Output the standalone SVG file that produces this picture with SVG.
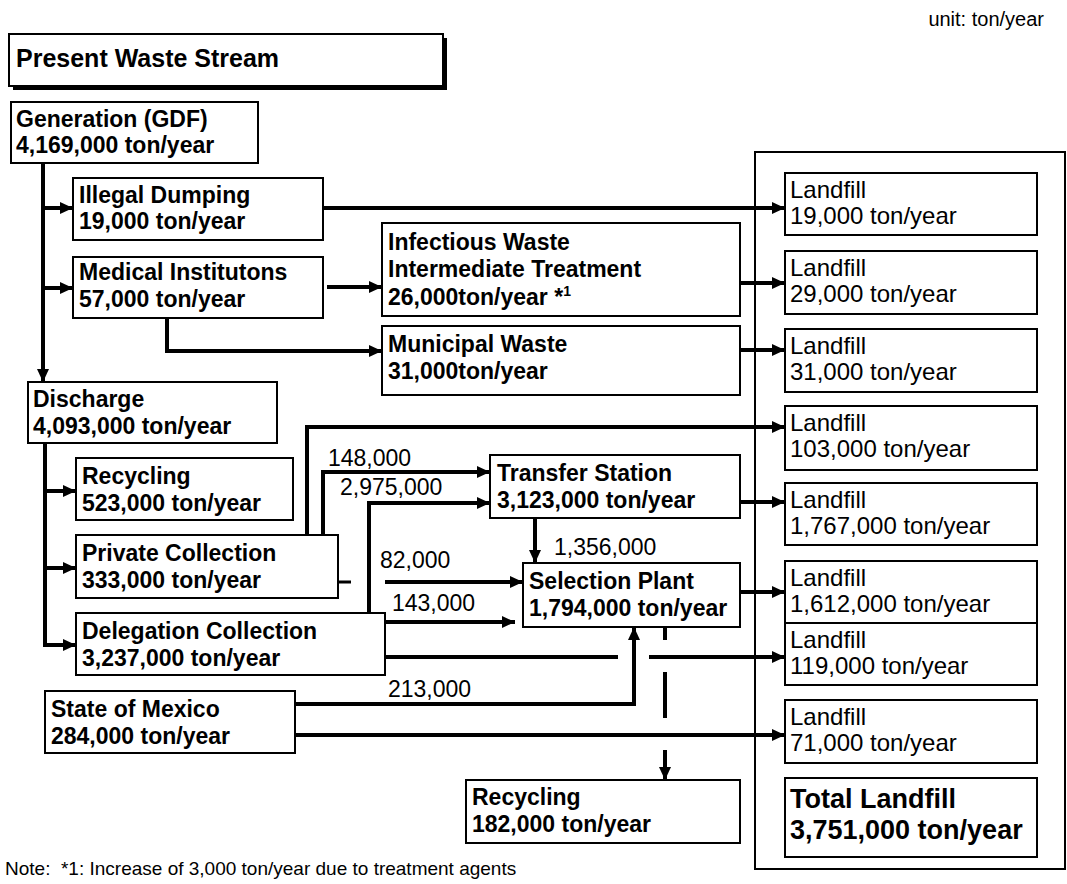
<svg xmlns="http://www.w3.org/2000/svg" width="1067" height="884" viewBox="0 0 1067 884">
  <defs>
    <style>
      .box { fill: #fff; stroke: #000; stroke-width: 2; }
      .frame { fill: none; stroke: #000; stroke-width: 2; }
      .flow { fill: none; stroke: #000; stroke-width: 4; }
      .arw { marker-end: url(#head); }
      .b { font-family: "Liberation Sans", Arial, sans-serif; font-weight: bold; font-size: 23px; fill: #000; }
      .r { font-family: "Liberation Sans", Arial, sans-serif; font-size: 23px; fill: #000; }
      .lf { font-family: "Liberation Sans", Arial, sans-serif; font-size: 24px; fill: #000; }
      .t { font-family: "Liberation Sans", Arial, sans-serif; font-weight: bold; font-size: 27px; fill: #000; }
      .n { font-family: "Liberation Sans", Arial, sans-serif; font-size: 19px; fill: #000; white-space: pre; }
    </style>
    <marker id="head" markerUnits="userSpaceOnUse" markerWidth="13" markerHeight="12" refX="13" refY="6" orient="auto">
      <path d="M0,0 L13,6 L0,12 z" fill="#000"/>
    </marker>
  </defs>
  <rect width="1067" height="884" fill="#fff"/>

  <text class="r" x="1044" y="26" text-anchor="end" style="font-size:20px">unit: ton/year</text>

  <!-- heading banner with drop shadow -->
  <g id="title">
    <rect x="13" y="38" width="434" height="52" fill="#000"/>
    <rect class="box" x="9" y="34" width="434" height="52"/>
    <text class="b" x="16" y="67" style="font-size:25px">Present Waste Stream</text>
  </g>

  <!-- outer frame around landfill column -->
  <rect class="frame" x="755" y="152" width="310" height="717"/>

  <!-- connectors -->
  <g id="connectors">
    <path class="flow arw" d="M43,163 V382"/>
    <path class="flow arw" d="M43,208 H73"/>
    <path class="flow arw" d="M43,288 H73"/>
    <path class="flow arw" d="M323,208 H785"/>
    <path class="flow arw" d="M327,287 H382"/>
    <path class="flow arw" d="M167,318 V351 H382"/>
    <path class="flow arw" d="M740,283 H785"/>
    <path class="flow arw" d="M740,350 H785"/>
    <path class="flow arw" d="M45,443 V645 H76"/>
    <path class="flow arw" d="M45,491 H76"/>
    <path class="flow arw" d="M45,568 H76"/>
    <path class="flow arw" d="M307,535 V427 H785"/>
    <path class="flow arw" d="M323,535 V472 H490"/>
    <path class="flow" d="M338,582 H351" style="stroke-width:3"/>
    <path class="flow arw" d="M385,582 H523"/>
    <path class="flow arw" d="M369,613 V503 H490"/>
    <path class="flow arw" d="M385,622 H515"/>
    <path class="flow" d="M385,657 H618"/>
    <path class="flow arw" d="M649,657 H785"/>
    <path class="flow arw" d="M295,704 H634 V627"/>
    <path class="flow arw" d="M295,735 H785"/>
    <path class="flow arw" d="M740,502 H785"/>
    <path class="flow arw" d="M535,518 V563"/>
    <path class="flow arw" d="M740,592 H785"/>
    <path class="flow" d="M665,627 V640 M665,672 V718"/>
    <path class="flow arw" d="M665,750 V780"/>
  </g>

  <!-- flow quantities -->
  <g id="flow-labels">
    <text class="r" x="328" y="466">148,000</text>
    <text class="r" x="340" y="495">2,975,000</text>
    <text class="r" x="554" y="555">1,356,000</text>
    <text class="r" x="380" y="568">82,000</text>
    <text class="r" x="392" y="611">143,000</text>
    <text class="r" x="388" y="697">213,000</text>
  </g>

  <g id="generation">
    <rect class="box" x="11" y="102" width="247" height="61"/>
    <text class="b" x="16" y="127">Generation (GDF)</text>
    <text class="b" x="16" y="153">4,169,000 ton/year</text>
  </g>
  <g id="illegal-dumping">
    <rect class="box" x="73" y="178" width="250" height="62"/>
    <text class="b" x="79" y="203">Illegal Dumping</text>
    <text class="b" x="79" y="229">19,000 ton/year</text>
  </g>
  <g id="medical">
    <rect class="box" x="73" y="257" width="250" height="61"/>
    <text class="b" x="79" y="280">Medical Institutons</text>
    <text class="b" x="79" y="307">57,000 ton/year</text>
  </g>
  <g id="infectious">
    <rect class="box" x="382" y="223" width="358" height="93"/>
    <text class="b" x="388" y="250">Infectious Waste</text>
    <text class="b" x="388" y="277">Intermediate Treatment</text>
    <text class="b" x="388" y="305">26,000ton/year *<tspan dy="-9" style="font-size:14px">1</tspan></text>
  </g>
  <g id="municipal">
    <rect class="box" x="382" y="326" width="358" height="69"/>
    <text class="b" x="388" y="352">Municipal Waste</text>
    <text class="b" x="388" y="379">31,000ton/year</text>
  </g>
  <g id="discharge">
    <rect class="box" x="28" y="382" width="249" height="61"/>
    <text class="b" x="33" y="407">Discharge</text>
    <text class="b" x="33" y="434">4,093,000 ton/year</text>
  </g>
  <g id="recycling-1">
    <rect class="box" x="76" y="458" width="217" height="62"/>
    <text class="b" x="82" y="484">Recycling</text>
    <text class="b" x="82" y="511">523,000 ton/year</text>
  </g>
  <g id="private">
    <rect class="box" x="76" y="535" width="262" height="63"/>
    <text class="b" x="82" y="561">Private Collection</text>
    <text class="b" x="82" y="588">333,000 ton/year</text>
  </g>
  <g id="delegation">
    <rect class="box" x="76" y="613" width="309" height="62"/>
    <text class="b" x="82" y="639">Delegation Collection</text>
    <text class="b" x="82" y="666">3,237,000 ton/year</text>
  </g>
  <g id="state-mexico">
    <rect class="box" x="45" y="691" width="250" height="62"/>
    <text class="b" x="51" y="717">State of Mexico</text>
    <text class="b" x="51" y="744">284,000 ton/year</text>
  </g>
  <g id="transfer">
    <rect class="box" x="490" y="455" width="250" height="63"/>
    <text class="b" x="497" y="481">Transfer Station</text>
    <text class="b" x="497" y="508">3,123,000 ton/year</text>
  </g>
  <g id="selection">
    <rect class="box" x="523" y="563" width="217" height="64"/>
    <text class="b" x="529" y="589">Selection Plant</text>
    <text class="b" x="529" y="616">1,794,000 ton/year</text>
  </g>
  <g id="recycling-2">
    <rect class="box" x="466" y="780" width="274" height="63"/>
    <text class="b" x="472" y="805">Recycling</text>
    <text class="b" x="472" y="832">182,000 ton/year</text>
  </g>

  <!-- landfill column -->
  <g id="landfill-19000">
    <rect class="box" x="785" y="173" width="252" height="62"/>
    <text class="lf" x="790" y="198">Landfill</text>
    <text class="lf" x="790" y="224">19,000 ton/year</text>
  </g>
  <g id="landfill-29000">
    <rect class="box" x="785" y="251" width="252" height="63"/>
    <text class="lf" x="790" y="276">Landfill</text>
    <text class="lf" x="790" y="302">29,000 ton/year</text>
  </g>
  <g id="landfill-31000">
    <rect class="box" x="785" y="329" width="252" height="63"/>
    <text class="lf" x="790" y="354">Landfill</text>
    <text class="lf" x="790" y="380">31,000 ton/year</text>
  </g>
  <g id="landfill-103000">
    <rect class="box" x="785" y="406" width="252" height="64"/>
    <text class="lf" x="790" y="431">Landfill</text>
    <text class="lf" x="790" y="457">103,000 ton/year</text>
  </g>
  <g id="landfill-1767000">
    <rect class="box" x="785" y="483" width="252" height="62"/>
    <text class="lf" x="790" y="508">Landfill</text>
    <text class="lf" x="790" y="534">1,767,000 ton/year</text>
  </g>
  <g id="landfill-1612000">
    <rect class="box" x="785" y="561" width="252" height="62"/>
    <text class="lf" x="790" y="586">Landfill</text>
    <text class="lf" x="790" y="612">1,612,000 ton/year</text>
  </g>
  <g id="landfill-119000">
    <rect class="box" x="785" y="623" width="252" height="62"/>
    <text class="lf" x="790" y="648">Landfill</text>
    <text class="lf" x="790" y="674">119,000 ton/year</text>
  </g>
  <g id="landfill-71000">
    <rect class="box" x="785" y="700" width="252" height="63"/>
    <text class="lf" x="790" y="725">Landfill</text>
    <text class="lf" x="790" y="751">71,000 ton/year</text>
  </g>
  <g id="total-landfill">
    <rect class="box" x="785" y="778" width="252" height="79"/>
    <text class="t" x="790" y="808">Total Landfill</text>
    <text class="t" x="790" y="839">3,751,000 ton/year</text>
  </g>

  <text class="n" x="5" y="875">Note:  *1: Increase of 3,000 ton/year due to treatment agents</text>
</svg>
